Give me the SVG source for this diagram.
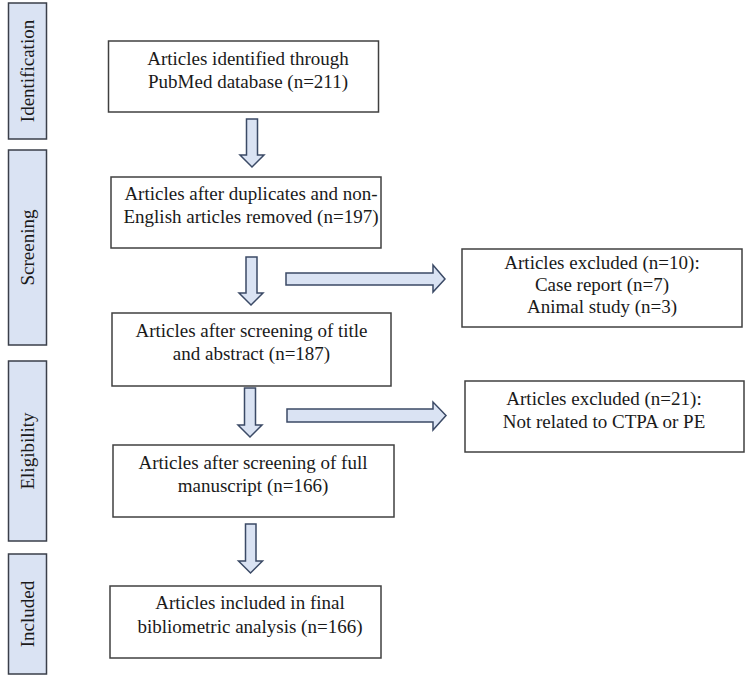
<svg xmlns="http://www.w3.org/2000/svg" width="750" height="686" viewBox="0 0 750 686">
<style>
.bg{fill:#ffffff}
.side{fill:#dae3f3;stroke:#3a3f4a;stroke-width:1.5}
.box{fill:#ffffff;stroke:#404040;stroke-width:1.5}
.arr{fill:#dae3f3;stroke:#3b4a66;stroke-width:1.5;stroke-linejoin:miter}
text{font-family:"Liberation Serif","Times New Roman",serif;font-size:19px;fill:#1a1a1a;text-anchor:middle}
</style>
<rect class="bg" x="0" y="0" width="750" height="686"/>
<g id="side-identification">
<rect class="side" x="8.5" y="3" width="38" height="136"/>
<text transform="translate(27,71) rotate(-90)" dominant-baseline="central">Identification</text>
</g>
<g id="side-screening">
<rect class="side" x="8.5" y="150" width="38" height="195"/>
<text transform="translate(27,247.5) rotate(-90)" dominant-baseline="central">Screening</text>
</g>
<g id="side-eligibility">
<rect class="side" x="8.5" y="361" width="38" height="180"/>
<text transform="translate(27,451) rotate(-90)" dominant-baseline="central">Eligibility</text>
</g>
<g id="side-included">
<rect class="side" x="8.5" y="554" width="38" height="120"/>
<text transform="translate(27,614) rotate(-90)" dominant-baseline="central">Included</text>
</g>
<g id="box-identified">
<rect class="box" x="108.5" y="41" width="270" height="71"/>
<text x="248" y="65">Articles identified through</text>
<text x="248" y="88">PubMed database (n=211)</text>
</g>
<g id="box-duplicates">
<rect class="box" x="111" y="177" width="270" height="71"/>
<text x="251" y="200">Articles after duplicates and non-</text>
<text x="251" y="223">English articles removed (n=197)</text>
</g>
<g id="box-title-abstract">
<rect class="box" x="112" y="313" width="279" height="73"/>
<text x="251.5" y="337">Articles after screening of title</text>
<text x="251.5" y="360">and abstract (n=187)</text>
</g>
<g id="box-full-manuscript">
<rect class="box" x="113" y="445" width="281" height="72"/>
<text x="253" y="469">Articles after screening of full</text>
<text x="253" y="492">manuscript (n=166)</text>
</g>
<g id="box-included">
<rect class="box" x="110" y="586" width="271" height="72"/>
<text x="250" y="609">Articles included in final</text>
<text x="250" y="633">bibliometric analysis (n=166)</text>
</g>
<g id="box-excluded-1">
<rect class="box" x="462" y="249" width="280" height="78"/>
<text x="602" y="269">Articles excluded (n=10):</text>
<text x="602" y="291">Case report (n=7)</text>
<text x="602" y="313">Animal study (n=3)</text>
</g>
<g id="box-excluded-2">
<rect class="box" x="465" y="381" width="279" height="71"/>
<text x="604" y="405">Articles excluded (n=21):</text>
<text x="604" y="428">Not related to CTPA or PE</text>
</g>
<g id="connectors">
<polygon class="arr" points="246.5,119 257.5,119 257.5,155 264,155 252,167 240,155 246.5,155"/>
<polygon class="arr" points="246,257 257,257 257,293 263,293 251,305 239,293 246,293"/>
<polygon class="arr" points="244.5,388 255.5,388 255.5,425 262,425 250,437 238,425 244.5,425"/>
<polygon class="arr" points="245.5,524 256,524 256,561 262.5,561 250.5,573 238.5,561 245.5,561"/>
<polygon class="arr" points="286,273 433,273 433,265 445,279 433,292 433,285 286,285"/>
<polygon class="arr" points="287,409 433,409 433,402 446,415.5 433,430 433,422 287,422"/>
</g>
</svg>
